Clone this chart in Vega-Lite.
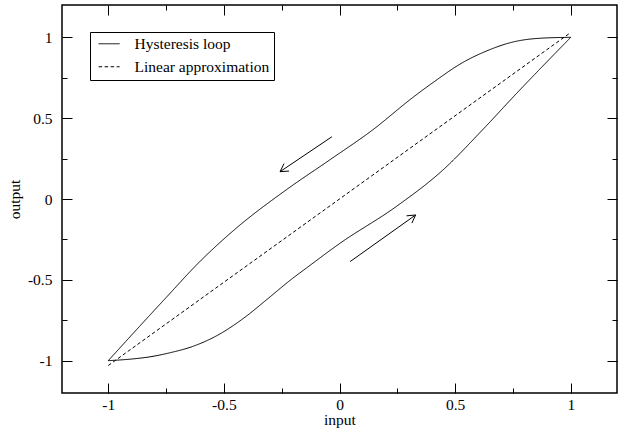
{
  "$schema": "https://vega.github.io/schema/vega-lite/v6.json",
  "autosize": {"type": "none"},
  "padding": {"left": 62, "top": 5, "right": 13, "bottom": 40},
  "width": 555,
  "height": 388,
  "background": "white",
  "config": {
    "view": {"stroke": "black", "strokeWidth": 1.5},
    "font": "Liberation Serif",
    "axis": {
      "domain": false,
      "grid": false,
      "tickColor": "black",
      "tickWidth": 1,
      "labelFont": "Liberation Serif",
      "labelFontSize": 15.5,
      "labelColor": "black",
      "titleFont": "Liberation Serif",
      "titleFontSize": 15.5,
      "titleFontWeight": "normal",
      "titleColor": "black"
    },
    "legend": {
      "orient": "none",
      "legendX": 28,
      "legendY": 27,
      "strokeColor": "black",
      "strokeWidth": 1,
      "fillColor": "white",
      "padding": 4,
      "cornerRadius": 0,
      "symbolType": "M-0.6,0H3.4",
      "symbolSize": 110,
      "symbolStrokeWidth": 1,
      "symbolStrokeColor": "black",
      "labelFont": "Liberation Serif",
      "labelFontSize": 15.5,
      "labelColor": "black",
      "labelOffset": 25,
      "rowPadding": 6
    }
  },
  "datasets": {
    "curves": [
      {"series": "Hysteresis loop", "branch": "lower", "x": -1, "y": -1},
      {"series": "Hysteresis loop", "branch": "lower", "x": -0.9, "y": -0.99},
      {"series": "Hysteresis loop", "branch": "lower", "x": -0.823, "y": -0.977},
      {"series": "Hysteresis loop", "branch": "lower", "x": -0.73, "y": -0.95},
      {"series": "Hysteresis loop", "branch": "lower", "x": -0.635, "y": -0.912},
      {"series": "Hysteresis loop", "branch": "lower", "x": -0.53, "y": -0.845},
      {"series": "Hysteresis loop", "branch": "lower", "x": -0.404, "y": -0.726},
      {"series": "Hysteresis loop", "branch": "lower", "x": -0.317, "y": -0.625},
      {"series": "Hysteresis loop", "branch": "lower", "x": -0.202, "y": -0.49},
      {"series": "Hysteresis loop", "branch": "lower", "x": -0.144, "y": -0.428},
      {"series": "Hysteresis loop", "branch": "lower", "x": 0, "y": -0.276},
      {"series": "Hysteresis loop", "branch": "lower", "x": 0.245, "y": -0.047},
      {"series": "Hysteresis loop", "branch": "lower", "x": 0.447, "y": 0.179},
      {"series": "Hysteresis loop", "branch": "lower", "x": 0.62, "y": 0.43},
      {"series": "Hysteresis loop", "branch": "lower", "x": 0.765, "y": 0.652},
      {"series": "Hysteresis loop", "branch": "lower", "x": 1, "y": 1},
      {"series": "Hysteresis loop", "branch": "upper", "x": -1, "y": -1},
      {"series": "Hysteresis loop", "branch": "upper", "x": -0.75, "y": -0.61},
      {"series": "Hysteresis loop", "branch": "upper", "x": -0.606, "y": -0.39},
      {"series": "Hysteresis loop", "branch": "upper", "x": -0.447, "y": -0.181},
      {"series": "Hysteresis loop", "branch": "upper", "x": -0.231, "y": 0.056},
      {"series": "Hysteresis loop", "branch": "upper", "x": -0.043, "y": 0.241},
      {"series": "Hysteresis loop", "branch": "upper", "x": 0.144, "y": 0.428},
      {"series": "Hysteresis loop", "branch": "upper", "x": 0.317, "y": 0.628},
      {"series": "Hysteresis loop", "branch": "upper", "x": 0.404, "y": 0.72},
      {"series": "Hysteresis loop", "branch": "upper", "x": 0.534, "y": 0.845},
      {"series": "Hysteresis loop", "branch": "upper", "x": 0.635, "y": 0.915},
      {"series": "Hysteresis loop", "branch": "upper", "x": 0.75, "y": 0.971},
      {"series": "Hysteresis loop", "branch": "upper", "x": 0.875, "y": 0.995},
      {"series": "Hysteresis loop", "branch": "upper", "x": 1, "y": 1},
      {"series": "Linear approximation", "branch": "linear", "x": -1, "y": -1.03},
      {"series": "Linear approximation", "branch": "linear", "x": 1, "y": 1.03}
    ],
    "arrows": [
      {"xtail": -0.033, "ytail": 0.385, "xtip": -0.257, "ytip": 0.169, "xa": -0.218, "ya": 0.173, "xb": -0.24, "yb": 0.219},
      {"xtail": 0.046, "ytail": -0.387, "xtip": 0.329, "ytip": -0.099, "xa": 0.29, "ya": -0.104, "xb": 0.313, "yb": -0.149}
    ]
  },
  "resolve": {"axis": {"x": "independent", "y": "independent"}},
  "layer": [
    {
      "data": {"name": "curves"},
      "mark": {"type": "line", "color": "black", "strokeWidth": 1, "interpolate": "monotone"},
      "encoding": {
        "x": {
          "field": "x", "type": "quantitative",
          "scale": {"domain": [-1.2, 1.2], "nice": false, "zero": false},
          "axis": {"orient": "bottom", "values": [-1, -0.5, 0, 0.5, 1], "tickSize": -10, "labelPadding": 14, "labelExpr": "'' + datum.value", "title": "input", "titlePadding": 0}
        },
        "y": {
          "field": "y", "type": "quantitative",
          "scale": {"domain": [-1.2, 1.2], "nice": false, "zero": false},
          "axis": {"orient": "left", "values": [-1, -0.5, 0, 0.5, 1], "tickSize": -10, "labelPadding": 20, "labelExpr": "'' + datum.value", "title": "output", "titlePadding": 5}
        },
        "strokeDash": {
          "field": "series", "type": "nominal",
          "scale": {"domain": ["Hysteresis loop", "Linear approximation"], "range": [[1, 0], [3.5, 2.5]]},
          "legend": {"title": null}
        },
        "detail": {"field": "branch", "type": "nominal"}
      }
    },
    {
      "data": {"name": "arrows"},
      "mark": {"type": "rule", "color": "black", "strokeWidth": 1},
      "encoding": {
        "x": {"field": "xtail", "type": "quantitative",
          "axis": {"orient": "bottom", "values": [-0.75, -0.25, 0.25, 0.75], "tickSize": -5, "labels": false, "title": null}},
        "y": {"field": "ytail", "type": "quantitative",
          "axis": {"orient": "left", "values": [-0.75, -0.25, 0.25, 0.75], "tickSize": -5, "labels": false, "title": null}},
        "x2": {"field": "xtip"},
        "y2": {"field": "ytip"}
      }
    },
    {
      "data": {"name": "arrows"},
      "mark": {"type": "rule", "color": "black", "strokeWidth": 1},
      "encoding": {
        "x": {"field": "xtip", "type": "quantitative",
          "axis": {"orient": "top", "values": [-1, -0.5, 0, 0.5, 1], "tickSize": -10, "labels": false, "title": null}},
        "y": {"field": "ytip", "type": "quantitative",
          "axis": {"orient": "right", "values": [-1, -0.5, 0, 0.5, 1], "tickSize": -10, "labels": false, "title": null}},
        "x2": {"field": "xa"},
        "y2": {"field": "ya"}
      }
    },
    {
      "data": {"name": "arrows"},
      "mark": {"type": "rule", "color": "black", "strokeWidth": 1},
      "encoding": {
        "x": {"field": "xtip", "type": "quantitative",
          "axis": {"orient": "top", "values": [-0.75, -0.25, 0.25, 0.75], "tickSize": -5, "labels": false, "title": null}},
        "y": {"field": "ytip", "type": "quantitative",
          "axis": {"orient": "right", "values": [-0.75, -0.25, 0.25, 0.75], "tickSize": -5, "labels": false, "title": null}},
        "x2": {"field": "xb"},
        "y2": {"field": "yb"}
      }
    }
  ]
}
